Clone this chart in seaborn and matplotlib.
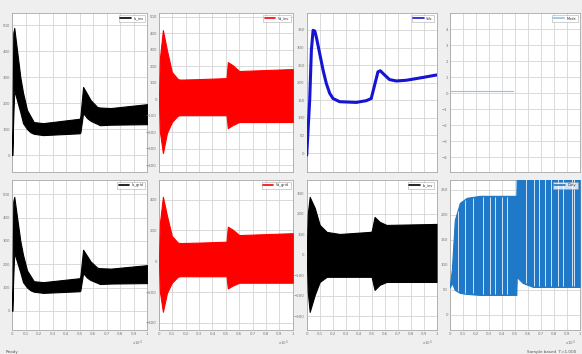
import numpy as np
import pandas as pd
import seaborn as sns
import matplotlib.pyplot as plt
from matplotlib.lines import Line2D

# ---- data (time normalised to the 0..1 window, x1e4) ----
# black envelope (panels 1 and 5)
blk_t = [0.0, 0.008, 0.015, 0.06, 0.08, 0.11, 0.135, 0.16, 0.23, 0.50, 0.505,
         0.525, 0.555, 0.58, 0.63, 0.65, 0.73, 1.0]
blk_up = [10, 470, 489, 300, 240, 173, 150, 127, 123, 140, 150,
          262, 235, 212, 185, 183, 181, 196]
blk_lo = [0, 150, 250, 165, 123, 100, 88, 82, 77, 84, 88,
          162, 142, 132, 120, 115, 117, 119]

# red envelope (panels 2 and 6)
red_t = [0.0, 0.008, 0.03, 0.06, 0.097, 0.142, 0.16, 0.30, 0.505, 0.515, 0.55, 0.60, 1.0]
red_up = [0, 250, 418, 297, 164, 121, 118, 121, 127, 224, 206, 170, 182]
red_lo = [0, -200, -327, -206, -139, -100, -97, -97, -97, -176, -158, -139, -139]

# blue line (panel 3)
blue_t = [0.0, 0.023, 0.036, 0.049, 0.062, 0.074, 0.10, 0.126, 0.151, 0.177, 0.203,
          0.254, 0.382, 0.459, 0.497, 0.523, 0.549, 0.567, 0.60, 0.638, 0.69,
          0.767, 0.895, 1.0]
blue_v = [-6, 151, 293, 349, 347, 330, 283, 236, 198, 170, 155,
          146, 144, 149, 155, 193, 231, 234, 222, 209, 205,
          207, 215, 222]

# flat reference line (panel 4)
ref_t = [0.0, 0.485]
ref_v = [0.12, 0.12]

# black envelope (panel 7)
blk2_t = [0.0, 0.008, 0.023, 0.062, 0.10, 0.154, 0.254, 0.485, 0.50, 0.523, 0.562, 0.615, 1.0]
blk2_up = [0, 200, 283, 229, 146, 112, 102, 112, 114, 185, 161, 146, 151]
blk2_lo = [0, -180, -278, -195, -132, -107, -107, -107, -107, -171, -146, -132, -132]

# blue envelope (panel 8)
sky_t = [0.0, 0.015, 0.038, 0.077, 0.13, 0.23, 0.50, 0.512, 0.515, 0.56, 0.64, 1.0]
sky_up = [60, 90, 190, 224, 234, 238, 238, 238, 275, 275, 275, 275]
sky_lo = [55, 64, 50, 44, 42, 40, 40, 40, 76, 64, 56, 56]
sky_stripes = [0.06, 0.115, 0.177, 0.254, 0.31, 0.346, 0.40, 0.44,
               0.59, 0.65, 0.69, 0.73, 0.78, 0.83, 0.87, 0.94, 0.96]

legend_names = ["Ia_inv", "Va_inv", "Vdc", "Mode", "Ia_grid", "Va_grid", "Ib_inv", "Duty"]

sns.set_theme(style="whitegrid")
plt.rcParams["font.family"] = ["DejaVu Sans"]

fig = plt.figure(figsize=(5.82, 3.54), dpi=100, facecolor="#efefef")

# axes boxes in figure fractions
lefts = [0.021, 0.273, 0.527, 0.773]
widths = [0.232, 0.230, 0.223, 0.223]
rows = [(0.514, 0.449), (0.068, 0.424)]

axes = []
for r, (b, h) in enumerate(rows):
    for c in range(4):
        ax = fig.add_axes([lefts[c], b, widths[c], h])
        ax.set_facecolor("white")
        for s in ax.spines.values():
            s.set_color("#a8a8a8")
            s.set_linewidth(0.6)
        ax.grid(True, color="#d4d4d4", linewidth=0.6)
        ax.set_xlim(0, 1)
        ax.set_xticks(np.arange(0, 1.01, 0.1))
        ax.tick_params(labelsize=2.8, colors="#777777", length=0, pad=1.5)
        if r == 0:
            ax.set_xticklabels([])
        else:
            ax.set_xticklabels(["0", "0.1", "0.2", "0.3", "0.4", "0.5",
                                "0.6", "0.7", "0.8", "0.9", "1"])
            ax.text(0.97, -0.06, "x10$^4$", transform=ax.transAxes,
                    fontsize=2.8, color="#777777", ha="right", va="top")
        axes.append(ax)


def band(ax, t, up, lo, color):
    df = pd.DataFrame({"t": t, "up": up, "lo": lo})
    ax.fill_between(df["t"], df["lo"], df["up"], color=color, lw=0.8,
                    edgecolor=color, zorder=3)


# panel 1 / 5 black
band(axes[0], blk_t, blk_up, blk_lo, "black")
axes[0].set_ylim(-65, 546)
axes[0].set_yticks(range(0, 501, 100))
band(axes[4], blk_t, blk_up, blk_lo, "black")
axes[4].set_ylim(-82, 562)
axes[4].set_yticks(range(0, 501, 100))

# panel 2 / 6 red
band(axes[1], red_t, red_up, red_lo, "#ff0000")
axes[1].set_ylim(-442, 521)
axes[1].set_yticks(range(-400, 501, 100))
band(axes[5], red_t, red_up, red_lo, "#ff0000")
axes[5].set_ylim(-445, 528)
axes[5].set_yticks(range(-400, 501, 200))

# panel 3 blue line
sns.lineplot(x=blue_t, y=blue_v, ax=axes[2], color="#1414d2", lw=2.2, zorder=3)
axes[2].set_ylim(-54, 398)
axes[2].set_yticks(range(0, 351, 50))

# panel 4 reference
sns.lineplot(x=ref_t, y=ref_v, ax=axes[3], color="#8fc4ea", lw=0.8, zorder=3)
axes[3].set_ylim(-4.94, 5)
axes[3].set_yticks(range(-4, 5, 1))

# panel 7 black
band(axes[6], blk2_t, blk2_up, blk2_lo, "black")
axes[6].set_ylim(-366, 366)
axes[6].set_yticks(range(-300, 301, 100))

# panel 8 blue with aliasing stripes inside the band
band(axes[7], sky_t, sky_up, sky_lo, "#1f78c8")
axes[7].vlines(sky_stripes, np.interp(sky_stripes, sky_t, sky_lo) + 2,
               np.interp(sky_stripes, sky_t, sky_up) - 2,
               color="#cfe3f5", lw=0.7, zorder=4)
axes[7].set_ylim(-30, 270)
axes[7].set_yticks(range(0, 251, 50))

colors = ["black", "red", "#1414d2", "#8fc4ea", "black", "red", "black", "#1f78c8"]
for ax, name, col in zip(axes, legend_names, colors):
    h = [Line2D([], [], color=col, lw=1.2)]
    leg = ax.legend(h, [name], loc="upper right", fontsize=2.5, frameon=True,
                    fancybox=False, handlelength=3, borderpad=0.4, borderaxespad=0.6)
    leg.get_frame().set_edgecolor("#999999")
    leg.get_frame().set_linewidth(0.4)
    leg.set_zorder(6)

# status bar
fig.text(0.01, 0.004, "Ready", fontsize=3, color="#555555")
fig.text(0.99, 0.004, "Sample based  T=1.000", fontsize=3, color="#555555", ha="right")

fig.savefig("out.png", dpi=100, facecolor=fig.get_facecolor())
